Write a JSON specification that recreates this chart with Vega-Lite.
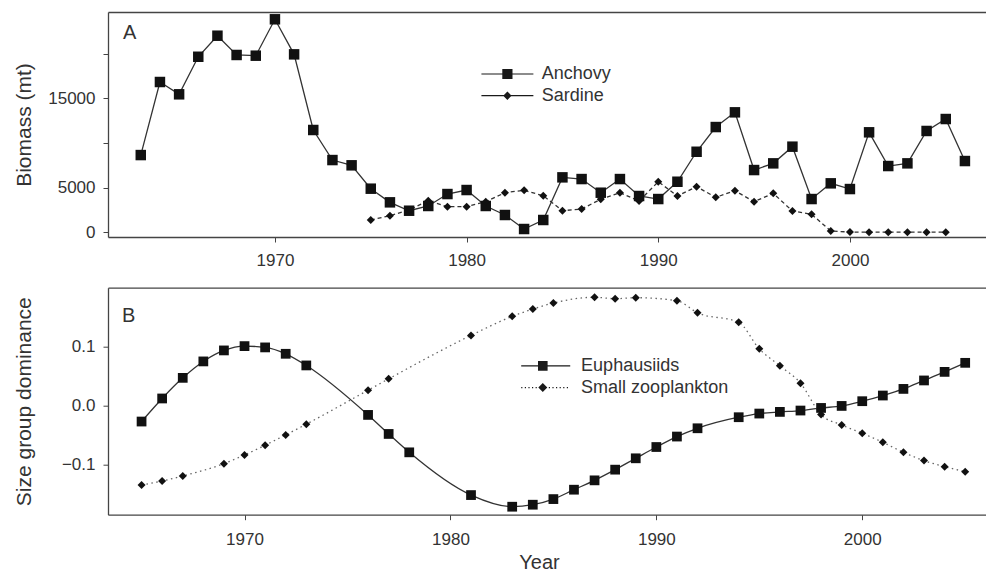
{
  "$schema": "https://vega.github.io/schema/vega-lite/v6.json",
  "background": "white",
  "padding": {"left": 12, "top": 12, "right": 0, "bottom": 0},
  "spacing": 19.7,
  "resolve": {"scale": {"shape": "independent"}, "legend": {"shape": "independent"}},
  "config": {
    "view": {"stroke": null},
    "font": "Liberation Sans",
    "axis": {
      "grid": false,
      "labelFont": "Liberation Sans",
      "labelFontSize": 17,
      "labelColor": "#333",
      "titleFont": "Liberation Sans",
      "titleFontWeight": "normal",
      "titleColor": "#333",
      "titleFontSize": 21,
      "domainColor": "#444",
      "domainWidth": 1.3,
      "tickColor": "#444",
      "tickWidth": 1,
      "tickSize": 5,
      "labelPadding": 8
    },
    "legend": {
      "labelFont": "Liberation Sans",
      "labelFontSize": 18,
      "labelColor": "#333",
      "padding": 0,
      "symbolFillColor": "#1a1a1a",
      "symbolStrokeColor": "transparent",
      "symbolStrokeWidth": 0,
      "symbolOpacity": 1
    }
  },
  "datasets": {
    "biomass": [
      {"year": 1963, "species": "Anchovy", "biomass": 8650},
      {"year": 1964, "species": "Anchovy", "biomass": 16840},
      {"year": 1965, "species": "Anchovy", "biomass": 15460},
      {"year": 1966, "species": "Anchovy", "biomass": 19670},
      {"year": 1967, "species": "Anchovy", "biomass": 22030},
      {"year": 1968, "species": "Anchovy", "biomass": 19870},
      {"year": 1969, "species": "Anchovy", "biomass": 19790},
      {"year": 1970, "species": "Anchovy", "biomass": 23870},
      {"year": 1971, "species": "Anchovy", "biomass": 19940},
      {"year": 1972, "species": "Anchovy", "biomass": 11460},
      {"year": 1973, "species": "Anchovy", "biomass": 8090},
      {"year": 1974, "species": "Anchovy", "biomass": 7500},
      {"year": 1975, "species": "Anchovy", "biomass": 4880},
      {"year": 1976, "species": "Anchovy", "biomass": 3350},
      {"year": 1977, "species": "Anchovy", "biomass": 2410},
      {"year": 1978, "species": "Anchovy", "biomass": 2940},
      {"year": 1979, "species": "Anchovy", "biomass": 4280},
      {"year": 1980, "species": "Anchovy", "biomass": 4730},
      {"year": 1981, "species": "Anchovy", "biomass": 2940},
      {"year": 1982, "species": "Anchovy", "biomass": 1930},
      {"year": 1983, "species": "Anchovy", "biomass": 360},
      {"year": 1984, "species": "Anchovy", "biomass": 1370},
      {"year": 1985, "species": "Anchovy", "biomass": 6150},
      {"year": 1986, "species": "Anchovy", "biomass": 5960},
      {"year": 1987, "species": "Anchovy", "biomass": 4430},
      {"year": 1988, "species": "Anchovy", "biomass": 5960},
      {"year": 1989, "species": "Anchovy", "biomass": 4060},
      {"year": 1990, "species": "Anchovy", "biomass": 3720},
      {"year": 1991, "species": "Anchovy", "biomass": 5660},
      {"year": 1992, "species": "Anchovy", "biomass": 9020},
      {"year": 1993, "species": "Anchovy", "biomass": 11790},
      {"year": 1994, "species": "Anchovy", "biomass": 13440},
      {"year": 1995, "species": "Anchovy", "biomass": 6970},
      {"year": 1996, "species": "Anchovy", "biomass": 7720},
      {"year": 1997, "species": "Anchovy", "biomass": 9590},
      {"year": 1998, "species": "Anchovy", "biomass": 3720},
      {"year": 1999, "species": "Anchovy", "biomass": 5480},
      {"year": 2000, "species": "Anchovy", "biomass": 4840},
      {"year": 2001, "species": "Anchovy", "biomass": 11200},
      {"year": 2002, "species": "Anchovy", "biomass": 7420},
      {"year": 2003, "species": "Anchovy", "biomass": 7720},
      {"year": 2004, "species": "Anchovy", "biomass": 11350},
      {"year": 2005, "species": "Anchovy", "biomass": 12690},
      {"year": 2006, "species": "Anchovy", "biomass": 7980},
      {"year": 1975, "species": "Sardine", "biomass": 1370},
      {"year": 1976, "species": "Sardine", "biomass": 1850},
      {"year": 1977, "species": "Sardine", "biomass": 2490},
      {"year": 1978, "species": "Sardine", "biomass": 3530},
      {"year": 1979, "species": "Sardine", "biomass": 2860},
      {"year": 1980, "species": "Sardine", "biomass": 2860},
      {"year": 1981, "species": "Sardine", "biomass": 3420},
      {"year": 1982, "species": "Sardine", "biomass": 4430},
      {"year": 1983, "species": "Sardine", "biomass": 4700},
      {"year": 1984, "species": "Sardine", "biomass": 4090},
      {"year": 1985, "species": "Sardine", "biomass": 2410},
      {"year": 1986, "species": "Sardine", "biomass": 2600},
      {"year": 1987, "species": "Sardine", "biomass": 3690},
      {"year": 1988, "species": "Sardine", "biomass": 4430},
      {"year": 1989, "species": "Sardine", "biomass": 3500},
      {"year": 1990, "species": "Sardine", "biomass": 5660},
      {"year": 1991, "species": "Sardine", "biomass": 4060},
      {"year": 1992, "species": "Sardine", "biomass": 5100},
      {"year": 1993, "species": "Sardine", "biomass": 3910},
      {"year": 1994, "species": "Sardine", "biomass": 4650},
      {"year": 1995, "species": "Sardine", "biomass": 3420},
      {"year": 1996, "species": "Sardine", "biomass": 4360},
      {"year": 1997, "species": "Sardine", "biomass": 2380},
      {"year": 1998, "species": "Sardine", "biomass": 2010},
      {"year": 1999, "species": "Sardine", "biomass": 130},
      {"year": 2000, "species": "Sardine", "biomass": 20},
      {"year": 2001, "species": "Sardine", "biomass": 0},
      {"year": 2002, "species": "Sardine", "biomass": 0},
      {"year": 2003, "species": "Sardine", "biomass": 0},
      {"year": 2004, "species": "Sardine", "biomass": 0},
      {"year": 2005, "species": "Sardine", "biomass": 0}
    ],
    "zoo": [
      {"year": 1965, "group": "Euphausiids", "value": -0.0271},
      {"year": 1966, "group": "Euphausiids", "value": 0.0119},
      {"year": 1967, "group": "Euphausiids", "value": 0.0468},
      {"year": 1968, "group": "Euphausiids", "value": 0.0746},
      {"year": 1969, "group": "Euphausiids", "value": 0.0932},
      {"year": 1970, "group": "Euphausiids", "value": 0.1005},
      {"year": 1971, "group": "Euphausiids", "value": 0.0983},
      {"year": 1972, "group": "Euphausiids", "value": 0.0875},
      {"year": 1973, "group": "Euphausiids", "value": 0.0678},
      {"year": 1976, "group": "Euphausiids", "value": -0.0159},
      {"year": 1977, "group": "Euphausiids", "value": -0.0481},
      {"year": 1978, "group": "Euphausiids", "value": -0.0792},
      {"year": 1981, "group": "Euphausiids", "value": -0.1515},
      {"year": 1983, "group": "Euphausiids", "value": -0.1712},
      {"year": 1984, "group": "Euphausiids", "value": -0.1678},
      {"year": 1985, "group": "Euphausiids", "value": -0.1583},
      {"year": 1986, "group": "Euphausiids", "value": -0.1424},
      {"year": 1987, "group": "Euphausiids", "value": -0.1266},
      {"year": 1988, "group": "Euphausiids", "value": -0.1085},
      {"year": 1989, "group": "Euphausiids", "value": -0.0893},
      {"year": 1990, "group": "Euphausiids", "value": -0.0702},
      {"year": 1991, "group": "Euphausiids", "value": -0.0525},
      {"year": 1992, "group": "Euphausiids", "value": -0.0385},
      {"year": 1994, "group": "Euphausiids", "value": -0.0198},
      {"year": 1995, "group": "Euphausiids", "value": -0.0136},
      {"year": 1996, "group": "Euphausiids", "value": -0.0108},
      {"year": 1997, "group": "Euphausiids", "value": -0.0085},
      {"year": 1998, "group": "Euphausiids", "value": -0.0041},
      {"year": 1999, "group": "Euphausiids", "value": -0.0007},
      {"year": 2000, "group": "Euphausiids", "value": 0.0073},
      {"year": 2001, "group": "Euphausiids", "value": 0.0169},
      {"year": 2002, "group": "Euphausiids", "value": 0.0281},
      {"year": 2003, "group": "Euphausiids", "value": 0.0424},
      {"year": 2004, "group": "Euphausiids", "value": 0.0569},
      {"year": 2005, "group": "Euphausiids", "value": 0.0722},
      {"year": 1965, "group": "Small zooplankton", "value": -0.1345},
      {"year": 1966, "group": "Small zooplankton", "value": -0.1277},
      {"year": 1967, "group": "Small zooplankton", "value": -0.1192},
      {"year": 1969, "group": "Small zooplankton", "value": -0.0983},
      {"year": 1970, "group": "Small zooplankton", "value": -0.0836},
      {"year": 1971, "group": "Small zooplankton", "value": -0.0672},
      {"year": 1972, "group": "Small zooplankton", "value": -0.0497},
      {"year": 1973, "group": "Small zooplankton", "value": -0.0316},
      {"year": 1976, "group": "Small zooplankton", "value": 0.0259},
      {"year": 1977, "group": "Small zooplankton", "value": 0.0451},
      {"year": 1981, "group": "Small zooplankton", "value": 0.1186},
      {"year": 1983, "group": "Small zooplankton", "value": 0.1508},
      {"year": 1984, "group": "Small zooplankton", "value": 0.1632},
      {"year": 1985, "group": "Small zooplankton", "value": 0.1734},
      {"year": 1987, "group": "Small zooplankton", "value": 0.1831},
      {"year": 1988, "group": "Small zooplankton", "value": 0.1807},
      {"year": 1989, "group": "Small zooplankton", "value": 0.1824},
      {"year": 1991, "group": "Small zooplankton", "value": 0.1773},
      {"year": 1992, "group": "Small zooplankton", "value": 0.1569},
      {"year": 1994, "group": "Small zooplankton", "value": 0.1407},
      {"year": 1995, "group": "Small zooplankton", "value": 0.0959},
      {"year": 1996, "group": "Small zooplankton", "value": 0.0671},
      {"year": 1997, "group": "Small zooplankton", "value": 0.0378},
      {"year": 1998, "group": "Small zooplankton", "value": -0.0153},
      {"year": 1999, "group": "Small zooplankton", "value": -0.0329},
      {"year": 2000, "group": "Small zooplankton", "value": -0.0469},
      {"year": 2001, "group": "Small zooplankton", "value": -0.0622},
      {"year": 2002, "group": "Small zooplankton", "value": -0.0792},
      {"year": 2003, "group": "Small zooplankton", "value": -0.0932},
      {"year": 2004, "group": "Small zooplankton", "value": -0.1034},
      {"year": 2005, "group": "Small zooplankton", "value": -0.1119}
    ]
  },
  "vconcat": [
    {
      "width": 878,
      "height": 225,
      "data": {"name": "biomass"},
      "title": {"text": "A", "anchor": "start", "frame": "group", "fontSize": 20, "fontWeight": "normal", "color": "#333", "font": "Liberation Sans", "offset": -31.3, "dx": 15, "baseline": "top"},
      "resolve": {"axis": {"x": "independent"}},
      "layer": [
        {
          "transform": [{"filter": "datum.species == 'Anchovy'"}],
          "mark": {"type": "line", "color": "#333", "strokeWidth": 1.3},
          "encoding": {
            "x": {"field": "year", "type": "quantitative", "scale": {"domain": [1961.29, 2007.1], "nice": false, "zero": false},
              "axis": {"orient": "bottom", "values": [1970, 1980, 1990, 2000], "format": "d", "title": null, "labelPadding": 10}},
            "y": {"field": "biomass", "type": "quantitative", "scale": {"domain": [-536, 24688], "nice": false, "zero": false},
              "axis": {"values": [0, 5000, 10000, 15000, 20000], "format": "d", "labelExpr": "datum.value == 10000 || datum.value == 20000 ? '' : datum.label", "title": "Biomass (mt)", "titleX": -84, "titleBaseline": "middle", "titleAngle": -90}}
          }
        },
        {
          "transform": [{"filter": "datum.species == 'Sardine'"}],
          "mark": {"type": "line", "color": "#333", "strokeWidth": 1.3, "strokeDash": [4, 3]},
          "encoding": {
            "x": {"field": "year", "type": "quantitative", "axis": {"orient": "top", "labels": false, "ticks": false, "title": null}},
            "y": {"field": "biomass", "type": "quantitative"}
          }
        },
        {
          "transform": [{"filter": "datum.species == 'Anchovy'"}],
          "mark": {"type": "point", "shape": "square", "filled": true, "color": "#111", "opacity": 1, "size": 110},
          "encoding": {
            "x": {"field": "year", "type": "quantitative", "axis": null},
            "y": {"field": "biomass", "type": "quantitative"}
          }
        },
        {
          "transform": [{"filter": "datum.species == 'Sardine'"}],
          "mark": {"type": "point", "shape": "diamond", "filled": true, "color": "#111", "opacity": 1, "size": 64},
          "encoding": {
            "x": {"field": "year", "type": "quantitative", "axis": null},
            "y": {"field": "biomass", "type": "quantitative"}
          }
        },
        {
          "transform": [{"filter": "false"}],
          "mark": {"type": "point", "filled": true, "color": "#1a1a1a", "opacity": 1},
          "encoding": {
            "x": {"field": "year", "type": "quantitative", "axis": null},
            "y": {"field": "biomass", "type": "quantitative"},
            "shape": {"field": "species", "type": "nominal",
              "scale": {"domain": ["Anchovy", "Sardine"], "range": ["M-4.33,-0.1H4.33V0.1H-4.33ZM-0.85,-0.85H0.85V0.85H-0.85Z", "M-4.33,-0.1H4.33V0.1H-4.33ZM0,-0.7L0.7,0L0,0.7L-0.7,0Z"]},
              "legend": {"orient": "none", "legendX": 390.4, "legendY": 53, "title": null, "labelOffset": 25.4, "rowPadding": 3.7, "symbolSize": 144, "padding": 0}}
          }
        }
      ]
    },
    {
      "width": 878,
      "height": 227,
      "data": {"name": "zoo"},
      "title": {"text": "B", "anchor": "start", "frame": "group", "fontSize": 20, "fontWeight": "normal", "color": "#333", "font": "Liberation Sans", "offset": -38.6, "dx": 14, "baseline": "top"},
      "resolve": {"axis": {"x": "independent"}},
      "layer": [
        {
          "transform": [{"filter": "datum.group == 'Euphausiids'"}],
          "mark": {"type": "line", "color": "#333", "strokeWidth": 1.3, "interpolate": "monotone"},
          "encoding": {
            "x": {"field": "year", "type": "quantitative", "scale": {"domain": [1963.37, 2006.01], "nice": false, "zero": false},
              "axis": {"orient": "bottom", "values": [1970, 1980, 1990, 2000], "format": "d", "title": "Year", "titleFontSize": 20, "titleX": 431, "titleY": 48, "titleBaseline": "middle", "labelPadding": 12}},
            "y": {"field": "value", "type": "quantitative", "scale": {"domain": [-0.1847, 0.1993], "nice": false, "zero": false},
              "axis": {"values": [-0.1, 0, 0.1], "format": ".1f", "title": "Size group dominance", "titleX": -84, "titleBaseline": "middle", "titleAngle": -90}}
          }
        },
        {
          "transform": [{"filter": "datum.group == 'Small zooplankton'"}],
          "mark": {"type": "line", "color": "#666", "strokeWidth": 1.3, "strokeDash": [1.5, 3.5], "interpolate": "monotone"},
          "encoding": {
            "x": {"field": "year", "type": "quantitative", "axis": {"orient": "top", "labels": false, "ticks": false, "title": null}},
            "y": {"field": "value", "type": "quantitative"}
          }
        },
        {
          "transform": [{"filter": "datum.group == 'Euphausiids'"}],
          "mark": {"type": "point", "shape": "square", "filled": true, "color": "#111", "opacity": 1, "size": 95},
          "encoding": {
            "x": {"field": "year", "type": "quantitative", "axis": null},
            "y": {"field": "value", "type": "quantitative"}
          }
        },
        {
          "transform": [{"filter": "datum.group == 'Small zooplankton'"}],
          "mark": {"type": "point", "shape": "diamond", "filled": true, "color": "#111", "opacity": 1, "size": 64},
          "encoding": {
            "x": {"field": "year", "type": "quantitative", "axis": null},
            "y": {"field": "value", "type": "quantitative"}
          }
        },
        {
          "transform": [{"filter": "false"}],
          "mark": {"type": "point", "filled": true, "color": "#1a1a1a", "opacity": 1},
          "encoding": {
            "x": {"field": "year", "type": "quantitative", "axis": null},
            "y": {"field": "value", "type": "quantitative"},
            "shape": {"field": "group", "type": "nominal",
              "scale": {"domain": ["Euphausiids", "Small zooplankton"], "range": ["M-3.6,-0.1H4.57V0.1H-3.6ZM-0.8,-0.8H0.8V0.8H-0.8Z", "M-3.6,-0.1h0.2v0.2h-0.2ZM-3,-0.1h0.2v0.2h-0.2ZM-2.4,-0.1h0.2v0.2h-0.2ZM-1.8,-0.1h0.2v0.2h-0.2ZM-1.2,-0.1h0.2v0.2h-0.2ZM1,-0.1h0.2v0.2h-0.2ZM1.6,-0.1h0.2v0.2h-0.2ZM2.2,-0.1h0.2v0.2h-0.2ZM2.8,-0.1h0.2v0.2h-0.2ZM3.4,-0.1h0.2v0.2h-0.2ZM4,-0.1h0.2v0.2h-0.2ZM0,-0.75L0.75,0L0,0.75L-0.75,0Z"]},
              "legend": {"orient": "none", "legendX": 425.8, "legendY": 69.2, "title": null, "labelOffset": 29.3, "rowPadding": 3.7, "symbolSize": 144, "padding": 0}}
          }
        }
      ]
    }
  ]
}
